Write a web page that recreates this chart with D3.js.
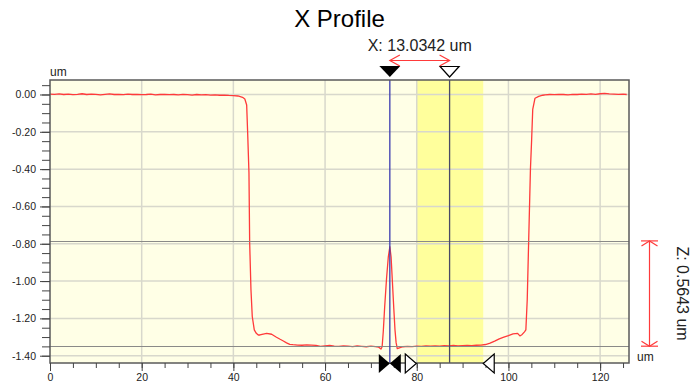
<!DOCTYPE html>
<html>
<head>
<meta charset="utf-8">
<script src="https://cdn.jsdelivr.net/npm/d3@7"></script>
<style>
  html, body { margin: 0; padding: 0; background: #fff; }
  svg { display: block; font-family: "Liberation Sans", Arial, sans-serif; }
</style>
</head>
<body>
<svg id="chart" width="691" height="390"></svg>
<script>
// ---- chart data -------------------------------------------------------
const chartTitle = "X Profile";
const unitLabel = "um";

const xTicks = [0, 20, 40, 60, 80, 100, 120];
const xTickLabels = ["0", "20", "40", "60", "80", "100", "120"];
const yTicks = [0, -0.2, -0.4, -0.6, -0.8, -1.0, -1.2, -1.4];
const yTickLabels = ["0.00", "-0.20", "-0.40", "-0.60", "-0.80", "-1.00", "-1.20", "-1.40"];

// profile position (um) and height (um)
const profileX = [
  0, 1, 2, 3, 4, 5, 6, 7, 8, 9, 10, 11, 12, 13, 14, 15, 16, 17, 18, 19, 20,
  21, 22, 23, 24, 25, 26, 27, 28, 29, 30, 31, 32, 33, 34, 35, 36, 37, 38, 39, 40,
  41, 42, 42.5, 42.9, 43.12, 43.4, 43.55, 43.84, 44.12, 44.56, 45.0, 45.43, 45.8,
  46.5, 47.26, 48.35, 49.4, 50.2, 50.9, 51.6, 52.3, 53, 54, 55, 56, 57, 58, 59, 60,
  61, 62, 63, 64, 65, 66, 67, 68, 69, 70, 71, 71.7, 72.2, 72.45, 72.7, 73.0, 73.4,
  73.8, 74.13, 74.4, 74.66, 75.0, 75.25, 75.5, 75.75, 76.2, 77, 78, 79, 80, 81, 82,
  83, 84, 85, 86, 87, 88, 89, 90, 91, 92, 93, 94, 95, 96, 97, 98, 99, 100, 101, 102,
  102.5, 103, 103.5, 103.8, 104.1, 104.5, 104.8, 105.06, 105.3, 105.8, 106.6, 107.5,
  108, 109, 110, 111, 112, 113, 114, 115, 116, 117, 118, 119, 120, 121, 122, 123,
  124, 125, 125.8
];
const profileZ = [
  0.002, 0.001, 0.003, 0.000, 0.002, -0.001, 0.001, 0.004, 0.000, 0.002, 0.001,
  -0.002, 0.001, 0.003, 0.000, 0.001, -0.001, 0.002, 0.000, 0.001, -0.001,
  0.000, 0.002, -0.002, 0.000, 0.001, -0.001, 0.000, -0.002, 0.001, -0.001,
  -0.003, 0.000, -0.002, -0.001, -0.003, -0.002, -0.004, -0.003, -0.005, -0.006,
  -0.008, -0.015, -0.024, -0.056, -0.208, -0.420, -0.790, -1.048, -1.190, -1.262, -1.280, -1.289, -1.289,
  -1.284, -1.280, -1.285, -1.301, -1.312, -1.321, -1.331, -1.339, -1.341, -1.343, -1.344, -1.342, -1.343, -1.345, -1.350, -1.347,
  -1.345, -1.349, -1.350, -1.347, -1.349, -1.351, -1.348, -1.350, -1.352, -1.349, -1.351, -1.354, -1.364, -1.352, -1.270, -1.140, -0.990,
  -0.870, -0.816, -0.870, -0.990, -1.150, -1.260, -1.330, -1.362, -1.358, -1.352, -1.350, -1.351, -1.349, -1.350, -1.348,
  -1.349, -1.347, -1.349, -1.346, -1.347, -1.345, -1.347, -1.346, -1.345, -1.346, -1.344, -1.343, -1.340, -1.333, -1.322, -1.310, -1.300, -1.292, -1.283, -1.280,
  -1.294, -1.286, -1.272, -1.262, -1.100, -0.700, -0.400, -0.244, -0.080, -0.020, -0.010, -0.004,
  -0.002, 0.000, -0.001, 0.001, 0.000, -0.002, 0.001, 0.000, 0.002, 0.001, 0.003, 0.001, 0.004, 0.006, 0.003, 0.002,
  0.001, 0.002, 0.000
];

// measurement cursors
const cursorX = [74.13, 87.1642];     // vertical cursors (um)
const cursorZ = [-0.7847, -1.3490];   // horizontal cursors (um)
const markerRangeA = [74.13, 74.13];  // filled range markers
const markerRangeB = [79.9, 94.5];    // hollow range markers / highlighted band

// ---- layout -----------------------------------------------------------
const svg = d3.select("#chart");
const plot = { left: 50, right: 629, top: 80, bottom: 363 };

const x = d3.scaleLinear().domain([0, 126.3]).range([plot.left, plot.right]);
const y = d3.scaleLinear().domain([-1.4391, 0.0777]).range([plot.bottom, plot.top]);

const red = "#ff3a3a";

// plot background
svg.append("rect")
  .attr("x", plot.left).attr("y", plot.top)
  .attr("width", plot.right - plot.left).attr("height", plot.bottom - plot.top)
  .attr("fill", "#ffffe6");

// highlighted band
svg.append("rect")
  .attr("x", x(markerRangeB[0])).attr("y", plot.top)
  .attr("width", x(markerRangeB[1]) - x(markerRangeB[0]))
  .attr("height", plot.bottom - plot.top)
  .attr("fill", "#ffff9c");

// grid
const grid = svg.append("g").attr("stroke", "#d8d8cc").attr("stroke-width", 1.5);
grid.selectAll("line.vx").data(xTicks.filter(d => d > 0)).join("line")
  .attr("x1", d => x(d)).attr("x2", d => x(d))
  .attr("y1", plot.top).attr("y2", plot.bottom);
grid.selectAll("line.hy").data(yTicks).join("line")
  .attr("x1", plot.left).attr("x2", plot.right)
  .attr("y1", d => y(d)).attr("y2", d => y(d));

// profile
const profile = profileX.map((v, i) => [v, profileZ[i]]);
svg.append("path")
  .datum(profile)
  .attr("fill", "none")
  .attr("stroke", red)
  .attr("stroke-width", 1.3)
  .attr("stroke-linejoin", "round")
  .attr("d", d3.line().x(d => x(d[0])).y(d => y(d[1])));

// horizontal cursors
svg.selectAll("line.hc").data(cursorZ).join("line")
  .attr("x1", plot.left).attr("x2", plot.right)
  .attr("y1", d => Math.round(y(d)) + 0.5).attr("y2", d => Math.round(y(d)) + 0.5)
  .attr("stroke", "#8a8a88").attr("stroke-width", 1.2);

// vertical cursors
const cursorColors = ["#3c3cb0", "#4a4a66"];
svg.selectAll("line.vc").data(cursorX).join("line")
  .attr("x1", d => x(d)).attr("x2", d => x(d))
  .attr("y1", plot.top).attr("y2", plot.bottom)
  .attr("stroke", (d, i) => cursorColors[i]).attr("stroke-width", 1.3);

// frame
svg.append("rect")
  .attr("x", plot.left).attr("y", plot.top)
  .attr("width", plot.right - plot.left).attr("height", plot.bottom - plot.top)
  .attr("fill", "none").attr("stroke", "#5a5a5a").attr("stroke-width", 1.5);

// axes
const fmtX = d => xTickLabels[xTicks.indexOf(d)];
const fmtY = d => yTickLabels[yTicks.indexOf(d)];

const xMinor = d3.range(0, 26).map(i => i * 5);
svg.append("g").attr("transform", `translate(0,${plot.bottom})`)
  .call(d3.axisBottom(x).tickValues(xMinor).tickSize(5).tickFormat(""))
  .call(g => g.select(".domain").remove())
  .call(g => g.selectAll("line").attr("stroke", "#444"));
svg.append("g").attr("transform", `translate(0,${plot.bottom})`)
  .call(d3.axisBottom(x).tickValues(xTicks).tickSize(8).tickPadding(3).tickFormat(fmtX))
  .call(g => g.select(".domain").remove())
  .call(g => g.selectAll("line").attr("stroke", "#444"))
  .call(g => g.selectAll("text").attr("font-size", "10.5px").attr("fill", "#222")
    .attr("font-family", "'Liberation Sans', Arial, sans-serif"));

const yMinor = d3.range(-28, 2).map(i => i * 0.05);
svg.append("g").attr("transform", `translate(${plot.left},0)`)
  .call(d3.axisLeft(y).tickValues(yMinor).tickSize(8).tickFormat(""))
  .call(g => g.select(".domain").remove())
  .call(g => g.selectAll("line").attr("stroke", "#444"));
svg.append("g").attr("transform", `translate(${plot.left},0)`)
  .call(d3.axisLeft(y).tickValues(yTicks).tickSize(10).tickPadding(4).tickFormat(fmtY))
  .call(g => g.select(".domain").remove())
  .call(g => g.selectAll("line").attr("stroke", "#444"))
  .call(g => g.selectAll("text").attr("font-size", "10.5px").attr("fill", "#222")
    .attr("font-family", "'Liberation Sans', Arial, sans-serif"));

// unit labels
svg.append("text").attr("x", plot.left).attr("y", 76)
  .attr("font-size", "12px").attr("fill", "#222").text(unitLabel);
svg.append("text").attr("x", 637).attr("y", 361)
  .attr("font-size", "12px").attr("fill", "#222").text(unitLabel);

// title
svg.append("text")
  .attr("x", (plot.left + plot.right) / 2).attr("y", 27)
  .attr("text-anchor", "middle").attr("font-size", "24px").attr("fill", "#000")
  .text(chartTitle);

// top cursor handles
const tri = (cx, yTop, h, w) => `M${cx - w},${yTop}L${cx + w},${yTop}L${cx},${yTop + h}Z`;
svg.append("path").attr("d", tri(x(cursorX[0]), 66, 11, 10.5)).attr("fill", "#000");
svg.append("path").attr("d", tri(x(cursorX[1]), 66.5, 10.5, 9.5))
  .attr("fill", "#fff").attr("stroke", "#000").attr("stroke-width", 1.2);

// bottom range markers
const cy = plot.bottom + 0.5, hh = 9.5, tw = 11;
const rightTri = tip => `M${tip - tw},${cy - hh}L${tip},${cy}L${tip - tw},${cy + hh}Z`;
const leftTri = tip => `M${tip + tw},${cy - hh}L${tip},${cy}L${tip + tw},${cy + hh}Z`;
svg.append("path").attr("d", rightTri(x(markerRangeA[0]))).attr("fill", "#000");
svg.append("path").attr("d", leftTri(x(markerRangeA[1]))).attr("fill", "#000");
svg.append("path").attr("d", rightTri(x(markerRangeB[0])))
  .attr("fill", "#fff").attr("stroke", "#000").attr("stroke-width", 1.2);
svg.append("path").attr("d", leftTri(x(markerRangeB[1])))
  .attr("fill", "#fff").attr("stroke", "#000").attr("stroke-width", 1.2);

// X distance annotation
const dx = cursorX[1] - cursorX[0];
const ax1 = x(cursorX[0]), ax2 = x(cursorX[1]), ay = 60.5;
const ann = svg.append("g").attr("stroke", red).attr("stroke-width", 1.2).attr("fill", "none");
ann.append("line").attr("x1", ax1).attr("x2", ax2).attr("y1", ay).attr("y2", ay);
ann.append("path").attr("d", `M${ax1 + 10},${ay - 5.5}L${ax1},${ay}L${ax1 + 10},${ay + 5.5}`);
ann.append("path").attr("d", `M${ax2 - 10},${ay - 5.5}L${ax2},${ay}L${ax2 - 10},${ay + 5.5}`);
svg.append("text")
  .attr("x", (ax1 + ax2) / 2).attr("y", 51)
  .attr("text-anchor", "middle").attr("font-size", "16px").attr("fill", "#222")
  .text(`X: ${dx.toFixed(4)} ${unitLabel}`);

// Z distance annotation
const dz = cursorZ[0] - cursorZ[1];
const zx = 649.5, zy1 = y(cursorZ[0]), zy2 = y(cursorZ[1]);
const zann = svg.append("g").attr("stroke", red).attr("stroke-width", 1.2).attr("fill", "none");
zann.append("line").attr("x1", zx).attr("x2", zx).attr("y1", zy1).attr("y2", zy2);
zann.append("line").attr("x1", zx - 8.5).attr("x2", zx + 8.5).attr("y1", zy1).attr("y2", zy1);
zann.append("line").attr("x1", zx - 8.5).attr("x2", zx + 8.5).attr("y1", zy2).attr("y2", zy2);
zann.append("path").attr("d", `M${zx - 8},${zy1 + 5}L${zx},${zy1}L${zx + 8},${zy1 + 5}`);
zann.append("path").attr("d", `M${zx - 8},${zy2 - 5}L${zx},${zy2}L${zx + 8},${zy2 - 5}`);
svg.append("text")
  .attr("transform", `translate(676.5,${(zy1 + zy2) / 2}) rotate(90)`)
  .attr("text-anchor", "middle").attr("font-size", "16px").attr("fill", "#222")
  .text(`Z: ${dz.toFixed(4)} ${unitLabel}`);
</script>
</body>
</html>
